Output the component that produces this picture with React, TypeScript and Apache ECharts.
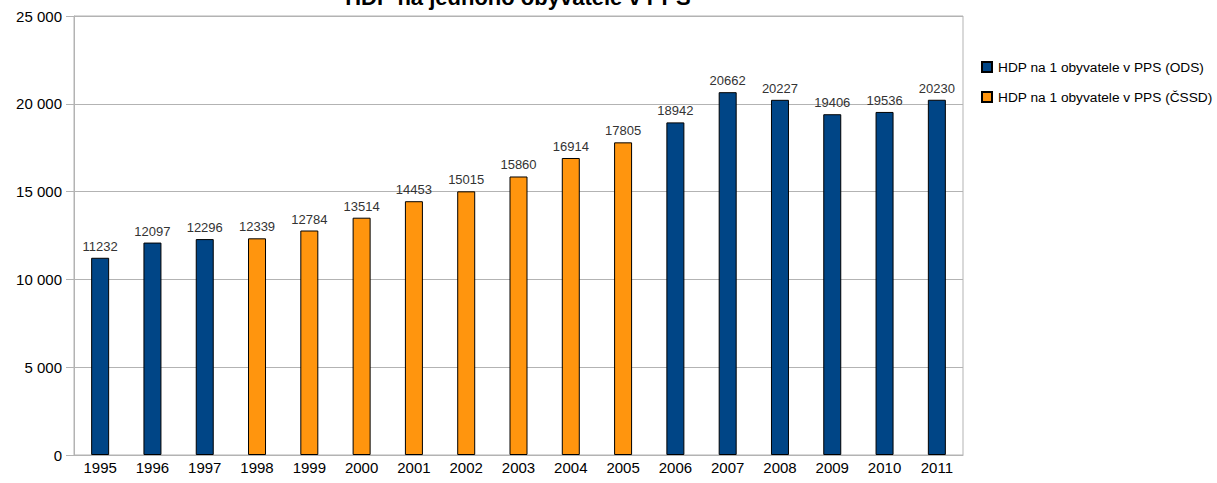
import React, { useEffect, useRef } from "react";
import * as echarts from "echarts";

const years = ["1995","1996","1997","1998","1999","2000","2001","2002","2003","2004","2005","2006","2007","2008","2009","2010","2011"];
const odsValues = [11232, 12097, 12296, null, null, null, null, null, null, null, null, 18942, 20662, 20227, 19406, 19536, 20230];
const cssdValues = [null, null, null, 12339, 12784, 13514, 14453, 15015, 15860, 16914, 17805, null, null, null, null, null, null];
const seriesNames = ["HDP na 1 obyvatele v PPS (ODS)", "HDP na 1 obyvatele v PPS (ČSSD)"];
const titleText = "HDP na jednoho obyvatele v PPS";

const FONT = "Liberation Sans, Arial, sans-serif";

export default function App() {
  const ref = useRef<HTMLDivElement>(null);
  useEffect(() => {
    if (!ref.current) return;
    const chart = echarts.init(ref.current, null, { renderer: "svg" });
    const label = {
      show: true,
      position: "top",
      distance: 5,
      color: "#333333",
      fontSize: 13,
      fontFamily: FONT,
    };
    chart.setOption({
      animation: false,
      backgroundColor: "#ffffff",
      textStyle: { fontFamily: FONT },
      graphic: [
        {
          type: "text",
          x: 518,
          y: -14,
          style: {
            text: titleText,
            font: "bold 22px Liberation Sans, Arial, sans-serif",
            textAlign: "center",
            textVerticalAlign: "top",
            fill: "#000000",
          },
        },
      ],
      legend: {
        orient: "vertical",
        left: 981,
        top: 60,
        padding: 0,
        itemWidth: 10,
        itemHeight: 10,
        itemGap: 16,
        icon: "rect",
        textStyle: { color: "#000000", fontSize: 13.7, fontFamily: FONT, padding: [0, 0, 0, 1] },
        data: seriesNames,
      },
      grid: {
        left: 74,
        top: 16,
        right: 254,
        bottom: 28,
        show: true,
        borderColor: "#b3b3b3",
        borderWidth: 1,
      },
      xAxis: {
        type: "category",
        data: years,
        axisLine: { lineStyle: { color: "#b3b3b3" } },
        axisTick: { alignWithLabel: true, length: 6, lineStyle: { color: "#b3b3b3" } },
        axisLabel: { color: "#000000", fontSize: 15, fontFamily: FONT, margin: 5 },
      },
      yAxis: {
        type: "value",
        min: 0,
        max: 25000,
        interval: 5000,
        axisLine: { show: true, lineStyle: { color: "#b3b3b3" } },
        axisTick: { show: true, length: 8, lineStyle: { color: "#b3b3b3" } },
        splitLine: { lineStyle: { color: "#b3b3b3" } },
        axisLabel: {
          color: "#000000",
          fontSize: 15,
          fontFamily: FONT,
          margin: 12,
          formatter: (v: number) => v.toLocaleString("en-US").replace(/,/g, " "),
        },
      },
      series: [
        {
          name: seriesNames[0],
          type: "bar",
          data: odsValues,
          barWidth: 18,
          barGap: "-100%",
          itemStyle: { color: "#004586", borderColor: "#000000", borderWidth: 1 },
          label,
        },
        {
          name: seriesNames[1],
          type: "bar",
          data: cssdValues,
          barWidth: 18,
          barGap: "-100%",
          itemStyle: { color: "#ff950e", borderColor: "#000000", borderWidth: 1 },
          label,
        },
      ],
    });
    return () => chart.dispose();
  }, []);
  return (
    <div
      ref={ref}
      style={{ position: "fixed", left: 0, top: 0, width: 1217, height: 483 }}
    />
  );
}
